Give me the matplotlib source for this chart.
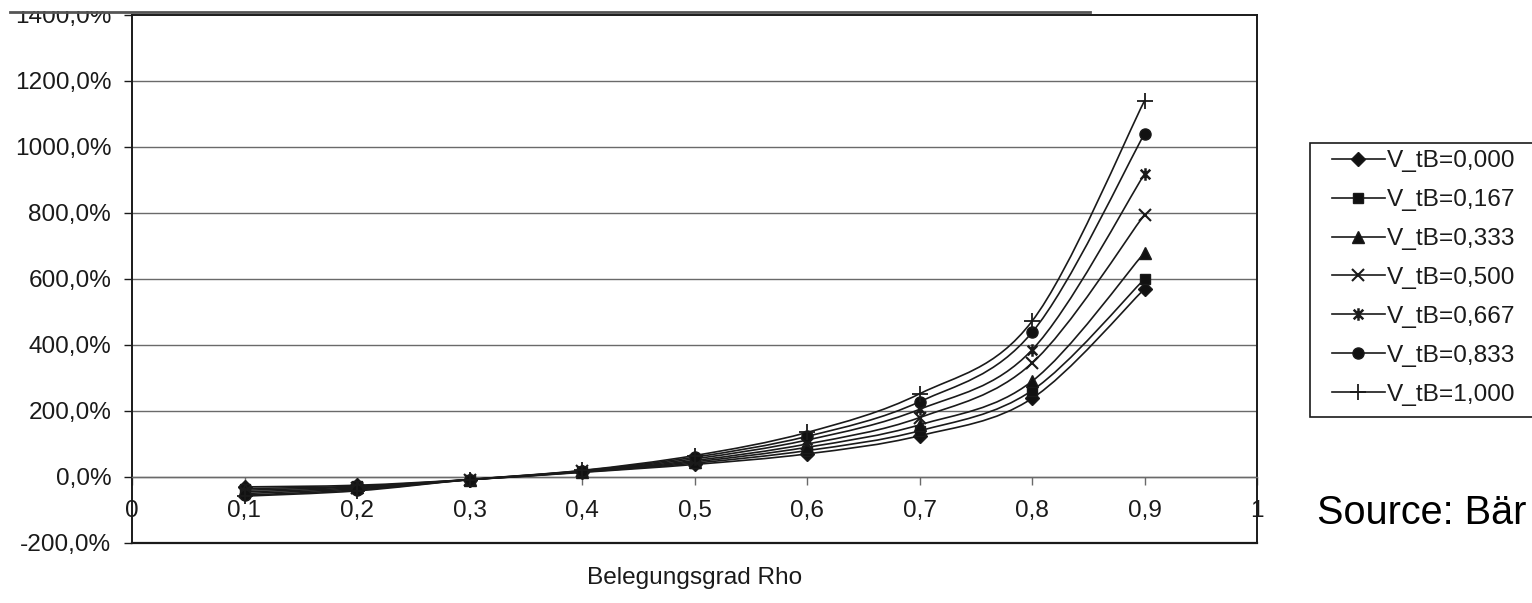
import matplotlib
matplotlib.use("Agg")
import matplotlib.pyplot as plt
from matplotlib.path import Path
from matplotlib.patches import PathPatch, Rectangle
from matplotlib.lines import Line2D
from matplotlib.ticker import FuncFormatter, FixedLocator
import numpy as np

plt.rcParams['font.family'] = ['Liberation Sans', 'DejaVu Sans']

# Belegungsgrad (utilisation)
rho = [0.1, 0.2, 0.3, 0.4, 0.5, 0.6, 0.7, 0.8, 0.9]

# relative change in percent, one series per variation coefficient V_tB
v_000 = [-30, -25, -8, 14, 38, 70, 125, 238, 570]
v_167 = [-35, -28, -8, 15, 42, 80, 140, 262, 600]
v_333 = [-40, -30, -8, 16, 46, 90, 158, 290, 680]
v_500 = [-45, -33, -8, 17, 50, 100, 180, 345, 795]
v_667 = [-50, -36, -8, 18, 55, 112, 205, 385, 918]
v_833 = [-55, -39, -8, 19, 60, 123, 228, 438, 1040]
v_1000 = [-58, -42, -8, 20, 65, 135, 252, 472, 1140]

series_labels = ["V_tB=0,000", "V_tB=0,167", "V_tB=0,333", "V_tB=0,500",
                 "V_tB=0,667", "V_tB=0,833", "V_tB=1,000"]

x_ticks = [0, 0.1, 0.2, 0.3, 0.4, 0.5, 0.6, 0.7, 0.8, 0.9, 1.0]
x_tick_labels = ["0", "0,1", "0,2", "0,3", "0,4", "0,5", "0,6", "0,7", "0,8", "0,9", "1"]
y_ticks = [-200, 0, 200, 400, 600, 800, 1000, 1200, 1400]

# asterisk marker: an x with a vertical bar
star_marker = Path([(-1, -1), (1, 1), (-1, 1), (1, -1), (0, -1.3), (0, 1.3)],
                   [Path.MOVETO, Path.LINETO, Path.MOVETO, Path.LINETO,
                    Path.MOVETO, Path.LINETO])

styles = [
    dict(marker='D', ms=7.5, mfc='#111', mew=1.0),
    dict(marker='s', ms=7.0, mfc='#111', mew=1.0),
    dict(marker='^', ms=8.5, mfc='#111', mew=1.0),
    dict(marker='x', ms=8.5, mfc='none', mew=1.5),
    dict(marker=star_marker, ms=9.0, mfc='none', mew=1.8),
    dict(marker='o', ms=8, mfc='#111', mew=1.0),
    dict(marker='+', ms=11, mfc='none', mew=1.3),
]

W, H = 1532, 603
fig = plt.figure(figsize=(W / 100, H / 100), dpi=100)
fig.patch.set_facecolor('white')

ax_l, ax_r, ax_t, ax_b = 132, 1257, 15, 543
ax = fig.add_axes([ax_l / W, 1 - ax_b / H, (ax_r - ax_l) / W, (ax_b - ax_t) / H])
ax.set_xlim(0, 1)
ax.set_ylim(-200, 1400)

ink = '#1a1a1a'
grid_c = '#6a6a6a'
fs = 17.6


def smooth_path(xs, ys):
    """Bezier path through the points, smoothed like a spreadsheet line chart."""
    pts = np.column_stack([xs, ys]).astype(float)
    n = len(pts)
    verts = [pts[0]]
    codes = [Path.MOVETO]
    for i in range(n - 1):
        p_prev = pts[i - 1] if i > 0 else pts[i]
        p_next2 = pts[i + 2] if i + 2 < n else pts[i + 1]
        c1 = pts[i] + (pts[i + 1] - p_prev) / 6.0
        c2 = pts[i + 1] - (p_next2 - pts[i]) / 6.0
        verts += [c1, c2, pts[i + 1]]
        codes += [Path.CURVE4] * 3
    return Path(verts, codes)


all_series = [v_000, v_167, v_333, v_500, v_667, v_833, v_1000]
for vals, st in zip(all_series, styles):
    ax.add_patch(PathPatch(smooth_path(rho, vals), facecolor='none',
                           edgecolor=ink, lw=1.2, zorder=3))
    ax.plot(rho, vals, linestyle='none', color=ink, mec=ink, zorder=4, **st)

# gridlines and frame
for yv in y_ticks[1:-1]:
    ax.axhline(yv, color=grid_c, lw=1.0, zorder=1)
ax.axhline(-200, color=ink, lw=1.6, zorder=5, clip_on=False)

for side in ('left', 'right', 'top'):
    ax.spines[side].set_color(ink)
    ax.spines[side].set_linewidth(1.4)
ax.spines['bottom'].set_position(('data', 0))
ax.spines['bottom'].set_color(grid_c)
ax.spines['bottom'].set_linewidth(1.0)

ax.yaxis.set_major_locator(FixedLocator(y_ticks))
ax.yaxis.set_major_formatter(FuncFormatter(lambda v, p: f"{v:.1f}%".replace('.', ',')))
ax.xaxis.set_major_locator(FixedLocator(x_ticks))
ax.set_xticklabels(x_tick_labels)

ax.tick_params(axis='y', direction='out', length=6, width=1.0, color=ink,
               pad=9, labelsize=fs, labelcolor=ink)
ax.tick_params(axis='x', direction='out', length=6, width=1.0, color=grid_c,
               pad=10.5, labelsize=fs, labelcolor=ink)

fig.text((ax_l + ax_r) / 2 / W, 1 - 578 / H, "Belegungsgrad Rho",
         ha='center', va='center', fontsize=fs, color=ink)

# legend box, running past the right edge
fig.add_artist(Rectangle((1310 / W, 1 - 417 / H), 260 / W, (417 - 143) / H,
                         transform=fig.transFigure, facecolor='white',
                         edgecolor=ink, lw=1.2, clip_on=False))
handles = [Line2D([], [], color=ink, lw=1.2, mec=ink, **st) for st in styles]
fig.legend(handles, series_labels, loc='upper left',
           bbox_to_anchor=(1332 / W, 1 - 150 / H), frameon=False,
           fontsize=fs, labelspacing=0.69, handlelength=2.15,
           handletextpad=0.1, borderpad=0.0, borderaxespad=0.0,
           labelcolor=ink)

fig.text(1317 / W, 1 - 513 / H, "Source: Bär", ha='left', va='center',
         fontsize=28.5, color='black')

# trimmed top edge of the chart area border
fig.add_artist(Rectangle((0, 1 - 11 / H), 1, 11 / H, transform=fig.transFigure,
                         facecolor='white', edgecolor='none', zorder=10))
fig.add_artist(Line2D([10 / W, 1090 / W], [1 - 12 / H, 1 - 12 / H],
                      transform=fig.transFigure, color='#555', lw=2.0, zorder=11))

fig.savefig("out.png", dpi=100, facecolor='white')
